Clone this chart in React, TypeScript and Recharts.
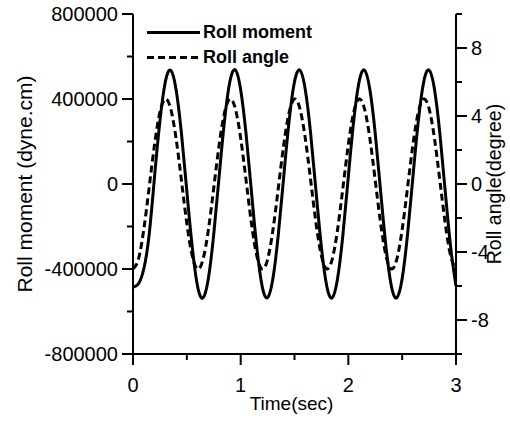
import { LineChart, Line, XAxis, YAxis, Legend, Label } from "recharts";

// time (sec)
const time = [
    0, 0.05, 0.1, 0.15, 0.2, 0.25, 0.3, 0.35, 0.4, 0.45, 0.5, 0.55,
    0.6, 0.65, 0.7, 0.75, 0.8, 0.85, 0.9, 0.95, 1.0, 1.05, 1.1, 1.15,
    1.2, 1.25, 1.3, 1.35, 1.4, 1.45, 1.5, 1.55, 1.6, 1.65, 1.7, 1.75,
    1.8, 1.85, 1.9, 1.95, 2.0, 2.05, 2.1, 2.15, 2.2, 2.25, 2.3, 2.35,
    2.4, 2.45, 2.5, 2.55, 2.6, 2.65, 2.7, 2.75, 2.8, 2.85, 2.9, 2.95,
    3.0,
];

// roll moment (dyne.cm)
const rollMoment = [
    -486000, -470000, -400000, -238000, 34000, 296000, 480000, 535000, 445000, 238000, -34000, -296000,
    -482000, -536000, -445000, -236000, 36000, 298000, 482000, 537000, 444000, 236000, -36000, -298000,
    -482000, -535000, -444000, -236000, 35000, 297000, 481000, 536000, 445000, 237000, -35000, -297000,
    -481000, -536000, -445000, -237000, 35000, 297000, 481000, 536000, 445000, 237000, -35000, -297000,
    -481000, -535000, -445000, -237000, 34000, 296000, 480000, 536000, 446000, 238000, -34000, -296000,
    -480000,
];

// roll angle (degree)
const rollAngle = [
    -5.0, -4.43, -2.68, -0.21, 2.32, 4.22, 5.0, 4.43, 2.68, 0.21, -2.32, -4.22,
    -5.0, -4.44, -2.7, -0.23, 2.3, 4.2, 5.0, 4.45, 2.7, 0.23, -2.31, -4.23,
    -5.0, -4.44, -2.69, -0.22, 2.31, 4.21, 5.0, 4.44, 2.69, 0.22, -2.32, -4.22,
    -5.0, -4.43, -2.68, -0.21, 2.32, 4.22, 5.0, 4.43, 2.68, 0.21, -2.32, -4.22,
    -5.0, -4.43, -2.68, -0.21, 2.32, 4.22, 5.0, 4.43, 2.68, 0.21, -2.32, -4.22,
    -5.0,
];

const momentTicks = [-800000, -600000, -400000, -200000, 0, 200000, 400000, 600000, 800000];
const angleTicks = [-10, -8, -6, -4, -2, 0, 2, 4, 6, 8, 10];
const timeTicks = [0, 0.5, 1, 1.5, 2, 2.5, 3];
const legendOrder = ["Roll moment", "Roll angle"];

const data = time.map((t, i) => ({ time: t, moment: rollMoment[i], angle: rollAngle[i] }));

const FONT = "'Liberation Sans', Arial, sans-serif";
const MAJOR = 11;
const MINOR = 6;

function MomentTick({ x, y, payload }: any) {
    const major = payload.value % 400000 === 0;
    const len = major ? MAJOR : MINOR;
    return (
        <g>
            <line x1={x - len} x2={x} y1={y} y2={y} stroke="#000" strokeWidth={2} />
            {major && (
                <text x={x - MAJOR - 4} y={y} dy="0.36em" textAnchor="end" fontSize={20} fontFamily={FONT} fill="#000">
                    {payload.value}
                </text>
            )}
        </g>
    );
}

function AngleTick({ x, y, payload }: any) {
    const major = payload.value % 4 === 0;
    const len = major ? MAJOR : MINOR;
    return (
        <g>
            <line x1={x} x2={x + len} y1={y} y2={y} stroke="#000" strokeWidth={2} />
            {major && (
                <text x={x + MAJOR + 4} y={y} dy="0.36em" textAnchor="start" fontSize={20} fontFamily={FONT} fill="#000">
                    {payload.value}
                </text>
            )}
        </g>
    );
}

function TimeTick({ x, y, payload }: any) {
    const major = Number.isInteger(payload.value);
    const len = major ? MAJOR : MINOR;
    return (
        <g>
            <line x1={x} x2={x} y1={y} y2={y + len} stroke="#000" strokeWidth={2} />
            {major && (
                <text x={x} y={y + 38} textAnchor="middle" fontSize={20} fontFamily={FONT} fill="#000">
                    {payload.value}
                </text>
            )}
        </g>
    );
}

function renderLegend(props: any) {
    const payload = [...(props.payload || [])].sort(
        (a: any, b: any) => legendOrder.indexOf(a.value) - legendOrder.indexOf(b.value)
    );
    return (
        <div style={{ fontFamily: FONT, fontWeight: "bold", fontSize: 18, color: "#000" }}>
            {payload.map((entry: any, index: number) => (
                <div key={`legend-${index}`} style={{ display: "flex", alignItems: "center", height: 25 }}>
                    <svg width={53} height={25}>
                        <line
                            x1={0}
                            x2={53}
                            y1={12.5}
                            y2={12.5}
                            stroke="#000"
                            strokeWidth={3}
                            strokeDasharray={entry.payload?.strokeDasharray}
                        />
                    </svg>
                    <span style={{ marginLeft: 3, lineHeight: "25px" }}>{entry.value}</span>
                </div>
            ))}
        </div>
    );
}

export default function App() {
    return (
        <div style={{ position: "absolute", left: 0, top: 0, background: "#fff" }}>
            <LineChart
                width={510}
                height={421}
                data={data}
                margin={{ top: 14, right: 0, bottom: 0, left: 10 }}
            >
                <XAxis
                    dataKey="time"
                    type="number"
                    domain={[0, 3]}
                    ticks={timeTicks}
                    height={67}
                    tickSize={0}
                    tickMargin={0}
                    tickLine={false}
                    tick={<TimeTick />}
                    axisLine={{ stroke: "#000", strokeWidth: 2 }}
                    interval={0}
                >
                    <Label
                        value="Time(sec)"
                        position="insideBottom"
                        offset={11}
                        dx={-3}
                        style={{ fontFamily: FONT, fontSize: 19, fill: "#000" }}
                    />
                </XAxis>
                <YAxis
                    yAxisId="moment"
                    type="number"
                    domain={[-800000, 800000]}
                    ticks={momentTicks}
                    width={123}
                    tickSize={0}
                    tickMargin={0}
                    tickLine={false}
                    tick={<MomentTick />}
                    axisLine={{ stroke: "#000", strokeWidth: 2 }}
                    interval={0}
                >
                    <Label
                        value="Roll moment (dyne.cm)"
                        angle={-90}
                        position="insideLeft"
                        offset={15}
                        style={{ fontFamily: FONT, fontSize: 21, fill: "#000", textAnchor: "middle" }}
                    />
                </YAxis>
                <YAxis
                    yAxisId="angle"
                    orientation="right"
                    type="number"
                    domain={[-10, 10]}
                    ticks={angleTicks}
                    width={54}
                    tickSize={0}
                    tickMargin={0}
                    tickLine={false}
                    tick={<AngleTick />}
                    axisLine={{ stroke: "#000", strokeWidth: 2 }}
                    interval={0}
                >
                    <Label
                        value="Roll angle(degree)"
                        angle={-90}
                        position="insideRight"
                        offset={16}
                        style={{ fontFamily: FONT, fontSize: 19.5, fill: "#000", textAnchor: "middle" }}
                    />
                </YAxis>
                <Legend
                    content={renderLegend}
                    layout="vertical"
                    align="center"
                    verticalAlign="middle"
                    wrapperStyle={{ left: 147, top: 20, width: 200 }}
                />
                <Line
                    yAxisId="moment"
                    dataKey="moment"
                    name="Roll moment"
                    type="natural"
                    stroke="#000"
                    strokeWidth={3}
                    dot={false}
                    isAnimationActive={false}
                />
                <Line
                    yAxisId="angle"
                    dataKey="angle"
                    name="Roll angle"
                    type="natural"
                    stroke="#000"
                    strokeWidth={3}
                    strokeDasharray="7 4"
                    dot={false}
                    isAnimationActive={false}
                />
            </LineChart>
        </div>
    );
}
